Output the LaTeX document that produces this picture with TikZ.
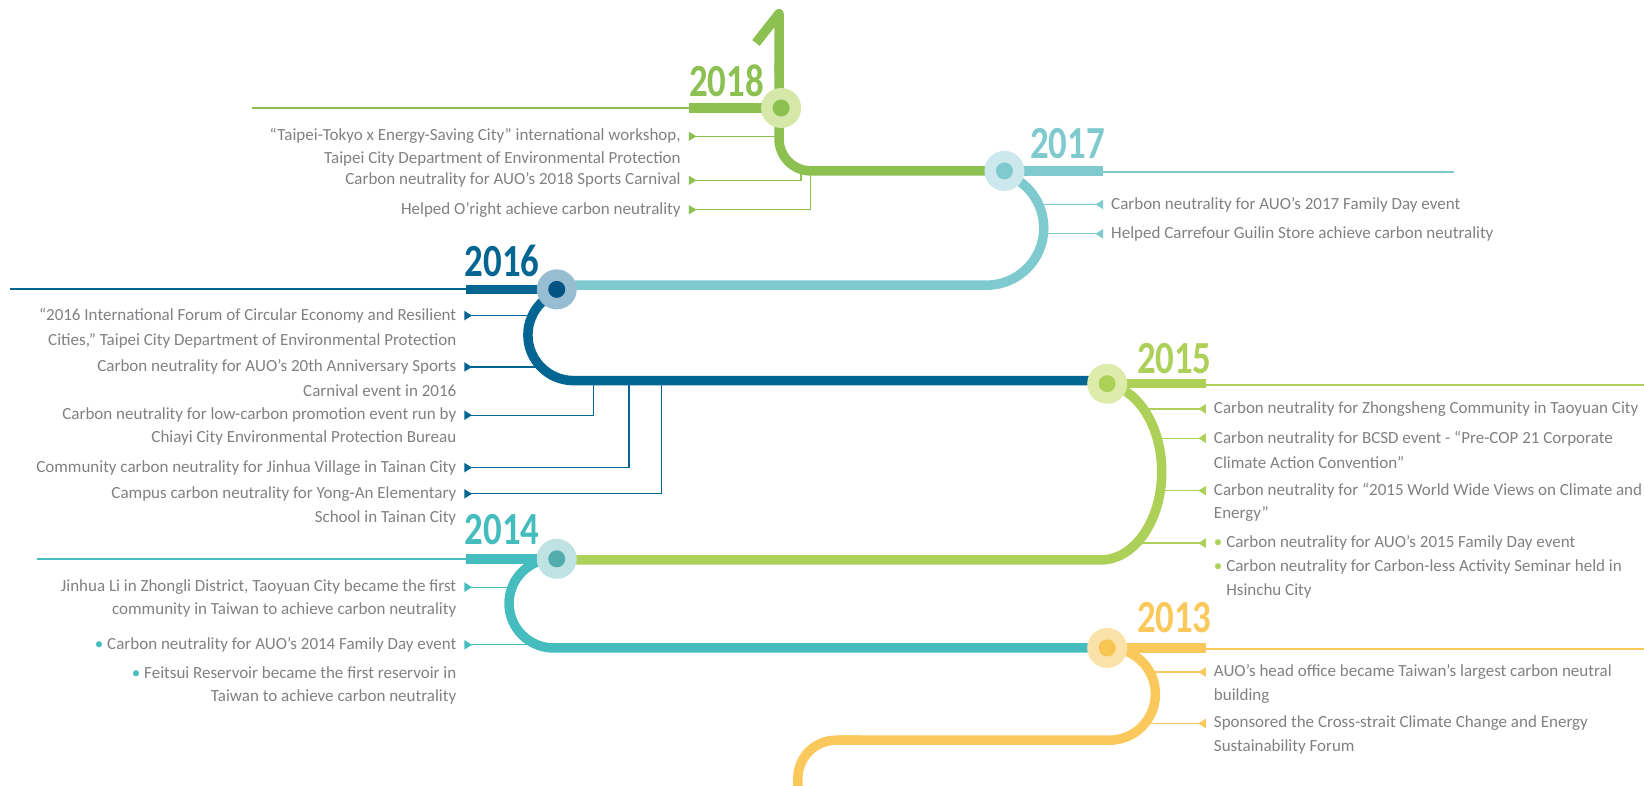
\documentclass[tikz,border=0pt]{standalone}
\usepackage{fontspec}
\setmainfont{Carlito}
\usetikzlibrary{arrows.meta}
\definecolor{txt}{HTML}{808184}
\definecolor{c18}{HTML}{8CC152}\definecolor{c18l}{HTML}{D5E8A8}\definecolor{c18d}{HTML}{8CC152}
\definecolor{c17}{HTML}{7ECACF}\definecolor{c17l}{HTML}{CDE8EC}\definecolor{c17d}{HTML}{7ECACF}
\definecolor{c16}{HTML}{036591}\definecolor{c16l}{HTML}{97BDD3}\definecolor{c16d}{HTML}{035482}
\definecolor{c15}{HTML}{ADD059}\definecolor{c15l}{HTML}{DDEBAB}\definecolor{c15d}{HTML}{ADD059}
\definecolor{c14}{HTML}{45BCBD}\definecolor{c14l}{HTML}{BFE3E3}\definecolor{c14d}{HTML}{52ADAC}
\definecolor{c13}{HTML}{FBC95B}\definecolor{c13l}{HTML}{FBE2A9}\definecolor{c13d}{HTML}{F9C552}
\newcommand\lblsize{\fontsize{17}{20}\selectfont}
\newcommand\yrsize{\fontsize{46}{46}\selectfont\bfseries}
\tikzset{
  track/.style={line width=9.5pt},
  yrline/.style={line width=1.8pt},
  conn/.style={line width=1.3pt,-{Triangle[reversed,length=7.5pt,width=9pt]}},
  lblL/.style={anchor=east,inner xsep=8pt,inner ysep=0pt,font=\lblsize,text=txt},
  lblR/.style={anchor=west,inner xsep=8pt,inner ysep=0pt,font=\lblsize,text=txt},
  yr/.style={text=#1,inner sep=0pt,font=\yrsize},
  marker/.style n args={2}{circle,fill=#1,minimum size=40pt,inner sep=0pt,
     path picture={\fill[#2] (path picture bounding box.center) circle (8.5pt);}}
}
\newcommand\yrtext[1]{\scalebox{0.8}[1]{#1}}
\begin{document}
\begin{tikzpicture}[x=1.0485pt,y=-1.0485pt]
\fill[white] (0,0) rectangle (1568,749);
\useasboundingbox (0,0) rectangle (1568,749);
\clip (0,0) rectangle (1568,749);

% markers positions
\coordinate (p18) at (745,103);
\coordinate (p17) at (958,163);
\coordinate (p16) at (531,276);
\coordinate (p15) at (1056,366);
\coordinate (p14) at (531,533);
\coordinate (p13) at (1056,618);

% thin year lines
\draw[yrline,c18] (240,103) -- (657,103);
\draw[yrline,c17] (1052,164) -- (1387,164);
\draw[yrline,c16] (10,276) -- (444,276);
\draw[yrline,c15] (1150,367) -- (1568,367);
\draw[yrline,c14] (35,533) -- (444,533);
\draw[yrline,c13] (1150,619) -- (1568,619);

% labels 2018
\node[lblL] (n18a) at (657,130) {“Taipei-Tokyo x Energy-Saving City” international workshop,};
\node[lblL] (n18a2) at (657,152) {Taipei City Department of Environmental Protection};
\node[lblL] (n18b) at (657,172) {Carbon neutrality for AUO’s 2018 Sports Carnival};
\node[lblL] (n18c) at (657,200) {Helped O’right achieve carbon neutrality};
% labels 2017
\node[lblR] (n17a) at (1052,195) {Carbon neutrality for AUO’s 2017 Family Day event};
\node[lblR] (n17b) at (1052,223) {Helped Carrefour Guilin Store achieve carbon neutrality};
% labels 2016
\node[lblL] (n16a) at (443,301) {“2016 International Forum of Circular Economy and Resilient};
\node[lblL] (n16a2) at (443,325) {Cities,” Taipei City Department of Environmental Protection};
\node[lblL] (n16b) at (443,350) {Carbon neutrality for AUO’s 20th Anniversary Sports};
\node[lblL] (n16b2) at (443,373) {Carnival event in 2016};
\node[lblL] (n16c) at (443,396) {Carbon neutrality for low-carbon promotion event run by};
\node[lblL] (n16c2) at (443,418) {Chiayi City Environmental Protection Bureau};
\node[lblL] (n16d) at (443,446) {Community carbon neutrality for Jinhua Village in Tainan City};
\node[lblL] (n16e) at (443,471) {Campus carbon neutrality for Yong-An Elementary};
\node[lblL] (n16e2) at (443,494) {School in Tainan City};
% labels 2015
\node[lblR] (n15a) at (1150,390) {Carbon neutrality for Zhongsheng Community in Taoyuan City};
\node[lblR] (n15b) at (1150,418) {Carbon neutrality for BCSD event - “Pre-COP 21 Corporate};
\node[lblR] (n15b2) at (1150,441) {Climate Action Convention”};
\node[lblR] (n15c) at (1150,468) {Carbon neutrality for “2015 World Wide Views on Climate and};
\node[lblR] (n15c2) at (1150,490) {Energy”};
\node[lblR] (n15d) at (1150,518) {\textcolor{c15}{•}\ Carbon neutrality for AUO’s 2015 Family Day event};
\node[lblR] (n15e) at (1150,541) {\textcolor{c15}{•}\ Carbon neutrality for Carbon-less Activity Seminar held in};
\node[lblR] (n15e2) at (1150,564) {\phantom{•\ }Hsinchu City};
% labels 2014
\node[lblL] (n14a) at (443,560) {Jinhua Li in Zhongli District, Taoyuan City became the first};
\node[lblL] (n14a2) at (443,582) {community in Taiwan to achieve carbon neutrality};
\node[lblL] (n14b) at (443,615) {\textcolor{c14}{•}\ Carbon neutrality for AUO’s 2014 Family Day event};
\node[lblL] (n14c) at (443,642) {\textcolor{c14}{•}\ Feitsui Reservoir became the first reservoir in};
\node[lblL] (n14c2) at (443,665) {Taiwan to achieve carbon neutrality};
% labels 2013
\node[lblR] (n13a) at (1150,641) {AUO’s head office became Taiwan’s largest carbon neutral};
\node[lblR] (n13a2) at (1150,664) {building};
\node[lblR] (n13b) at (1150,690) {Sponsored the Cross-strait Climate Change and Energy};
\node[lblR] (n13b2) at (1150,712) {Sustainability Forum};

% track points for connectors
\coordinate (t18a) at (743,130);
\coordinate (t18b) at (764,163);
\coordinate (t18c) at (773,163);
\coordinate (t17a) at (989.7,195);
\coordinate (t17b) at (995.3,223);
\coordinate (t16a) at (507.6,301);
\coordinate (t16b) at (516,350);
\coordinate (t16c) at (566,363);
\coordinate (t16d) at (600,363);
\coordinate (t16e) at (631,363);
\coordinate (t15a) at (1090,390);
\coordinate (t15b) at (1103,418);
\coordinate (t15c) at (1107,468);
\coordinate (t15d) at (1084,518);
\coordinate (t14a) at (488,560);
\coordinate (t14b) at (510,615);
\coordinate (t13a) at (1096,641);
\coordinate (t13b) at (1093.5,690);

% connectors
\draw[conn,c18] (t18a) -- (n18a.east);
\draw[conn,c18] (t18b) |- (n18b.east);
\draw[conn,c18] (t18c) |- (n18c.east);
\draw[conn,c17] (t17a) -- (n17a.west);
\draw[conn,c17] (t17b) -- (n17b.west);
\draw[conn,c16] (t16a) -- (n16a.east);
\draw[conn,c16] (t16b) -- (n16b.east);
\draw[conn,c16] (t16c) |- (n16c.east);
\draw[conn,c16] (t16d) |- (n16d.east);
\draw[conn,c16] (t16e) |- (n16e.east);
\draw[conn,c15] (t15a) -- (n15a.west);
\draw[conn,c15] (t15b) -- (n15b.west);
\draw[conn,c15] (t15c) -- (n15c.west);
\draw[conn,c15] (t15d) -- (n15d.west);
\draw[conn,c14] (t14a) -- (n14a.east);
\draw[conn,c14] (t14b) -- (n14b.east);
\draw[conn,c13] (t13a) -- (n13a.west);
\draw[conn,c13] (t13b) -- (n13b.west);

% tracks
\draw[track,c18,line join=round] (721,41) -- (743,13) -- (743,70);
\draw[track,c18,rounded corners=32pt] (743,60) -- (743,163) -- (p17);
\draw[track,c17] (941,163) arc[start angle=-90,end angle=90,radius=54.5] -- (531,272);
\draw[track,c16] (547,276) arc[start angle=270,end angle=90,radius=43.5] -- (1052,363);
\draw[track,c15] (1050,366) arc[start angle=-90,end angle=90,x radius=58,y radius=84] -- (531,534);
\draw[track,c14] (528,533) arc[start angle=270,end angle=90,radius=42.5] -- (p13);
\draw[track,c13] (1058,618) arc[start angle=-90,end angle=90,radius=44] -- (800,706);
\draw[track,c13,rounded corners=38pt] (820,706) -- (761,706) -- (761,770);

% thick year segments
\draw[track,c18] (657,103) -- (p18);
\draw[track,c17] (p17) -- (1052,163);
\draw[track,c16] (444,276) -- (p16);
\draw[track,c15] (p15) -- (1150,366);
\draw[track,c14] (444,533) -- (p14);
\draw[track,c13] (p13) -- (1150,618);

% markers
\node[marker={c18l}{c18d}] (m18) at (p18) {};
\node[marker={c17l}{c17d}] (m17) at (p17) {};
\node[marker={c16l}{c16d}] (m16) at (p16) {};
\node[marker={c15l}{c15d}] (m15) at (p15) {};
\node[marker={c14l}{c14d}] (m14) at (p14) {};
\node[marker={c13l}{c13d}] (m13) at (p13) {};

% years
\node[yr=c18] (y18) at (693,77) {\yrtext{2018}};
\node[yr=c17] (y17) at (1018,137) {\yrtext{2017}};
\node[yr=c16] (y16) at (479,249) {\yrtext{2016}};
\node[yr=c15] (y15) at (1120,342) {\yrtext{2015}};
\node[yr=c14] (y14) at (479,505) {\yrtext{2014}};
\node[yr=c13] (y13) at (1120,589) {\yrtext{2013}};
\end{tikzpicture}
\end{document}
